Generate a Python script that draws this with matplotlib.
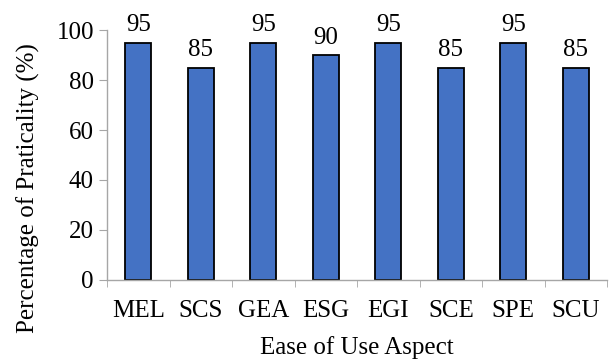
import numpy as np
import matplotlib.pyplot as plt
from matplotlib.ticker import FixedLocator

aspects = ['MEL', 'SCS', 'GEA', 'ESG', 'EGI', 'SCE', 'SPE', 'SCU']
praticality = [95, 85, 95, 90, 95, 85, 95, 85]

plt.rcParams['font.family'] = ['Liberation Serif', 'DejaVu Serif']

fig = plt.figure(figsize=(6.12, 3.63), dpi=100)
ax = fig.add_axes([0.175, 0.229, 0.817, 0.688])

x = np.arange(len(aspects))
bars = ax.bar(x, praticality, width=0.42, color='#4472C4', edgecolor='black', linewidth=1.3)
for b, v in zip(bars, praticality):
    ax.text(b.get_x() + b.get_width() / 2, v + 2.5, str(v), ha='center', va='bottom', fontsize=18)

ax.set_xlim(-0.5, len(aspects) - 0.5)
ax.set_ylim(0, 100)
ax.set_yticks(range(0, 101, 20))
ax.set_xticks(x)
ax.set_xticklabels(aspects)
ax.xaxis.set_minor_locator(FixedLocator(np.arange(-0.5, len(aspects), 1)))
ax.tick_params(axis='x', which='major', length=0, labelsize=18, pad=14.5)
ax.tick_params(axis='x', which='minor', length=5, color='#A6A6A6', direction='out')
ax.tick_params(axis='y', length=5.5, color='#A6A6A6', labelsize=18, pad=4)

for s in ['top', 'right']:
    ax.spines[s].set_visible(False)
for s in ['left', 'bottom']:
    ax.spines[s].set_color('#A6A6A6')
    ax.spines[s].set_linewidth(1.0)

ax.set_ylabel('Percentage of Praticality (%)', fontsize=18, va='center')
ax.yaxis.set_label_coords(-0.158, 0.368)
ax.set_xlabel('Ease of Use Aspect', fontsize=18, va='center')
ax.xaxis.set_label_coords(0.5, -0.272)

fig.savefig('out.png', dpi=100)
